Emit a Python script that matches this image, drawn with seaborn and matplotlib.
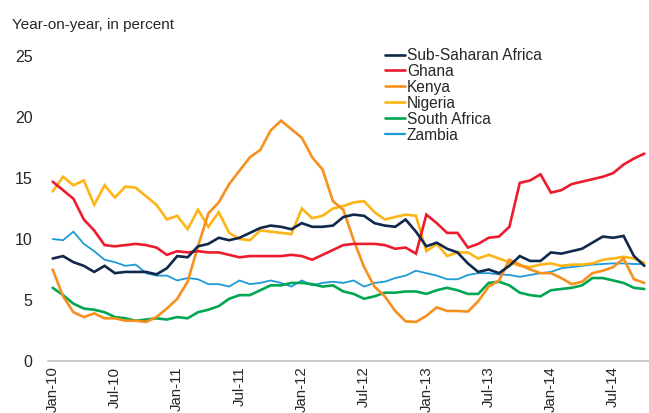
import matplotlib
matplotlib.use("Agg")
import matplotlib.pyplot as plt
import seaborn as sns
import pandas as pd
import numpy as np
from matplotlib.lines import Line2D

months = pd.date_range("2010-01-01", "2014-10-01", freq="MS")
tick_labels = ["Jan-10", "Jul-10", "Jan-11", "Jul-11", "Jan-12", "Jul-12",
               "Jan-13", "Jul-13", "Jan-14", "Jul-14"]

ssa = [8.4, 8.6, 8.1, 7.8, 7.3, 7.8, 7.2, 7.3, 7.3, 7.3,
       7.1, 7.6, 8.6, 8.5, 9.4, 9.6, 10.1, 9.9, 10.1, 10.5,
       10.9, 11.1, 11.0, 10.8, 11.3, 11.0, 11.0, 11.1, 11.8, 12.0,
       11.9, 11.3, 11.1, 11.0, 11.6, 10.6, 9.4, 9.7, 9.2, 8.9,
       8.0, 7.3, 7.5, 7.2, 7.8, 8.6, 8.2, 8.2, 8.9, 8.8,
       9.0, 9.2, 9.7, 10.2, 10.1, 10.25, 8.6, 7.8]
ghana = [14.7, 14.0, 13.3, 11.6, 10.7, 9.5, 9.4, 9.5, 9.6, 9.5,
         9.3, 8.7, 9.0, 8.9, 9.0, 8.9, 8.9, 8.7, 8.5, 8.6,
         8.6, 8.6, 8.6, 8.7, 8.6, 8.3, 8.7, 9.1, 9.5, 9.6,
         9.6, 9.6, 9.5, 9.2, 9.3, 8.8, 12.0, 11.3, 10.5, 10.5,
         9.3, 9.6, 10.1, 10.2, 11.0, 14.6, 14.8, 15.3, 13.8, 14.0,
         14.5, 14.7, 14.9, 15.1, 15.4, 16.1, 16.6, 17.0]
kenya = [7.5, 5.3, 4.0, 3.6, 3.9, 3.5, 3.5, 3.3, 3.3, 3.2,
         3.6, 4.3, 5.1, 6.5, 9.4, 12.1, 13.0, 14.5, 15.6, 16.7,
         17.3, 18.9, 19.7, 19.0, 18.3, 16.7, 15.7, 13.1, 12.4, 9.9,
         7.7, 6.1, 5.3, 4.1, 3.25, 3.2, 3.7, 4.4, 4.1, 4.1,
         4.05, 4.9, 6.1, 6.6, 8.3, 7.9, 7.5, 7.2, 7.2, 6.8,
         6.3, 6.5, 7.2, 7.4, 7.7, 8.4, 6.7, 6.4]
nigeria = [13.9, 15.1, 14.4, 14.8, 12.8, 14.4, 13.4, 14.3, 14.2, 13.5,
           12.8, 11.6, 11.9, 10.8, 12.4, 11.0, 12.2, 10.5, 10.0, 9.9,
           10.7, 10.6, 10.5, 10.4, 12.5, 11.7, 11.9, 12.5, 12.7, 13.0,
           13.1, 12.2, 11.6, 11.8, 12.0, 11.9, 9.0, 9.6, 8.6, 8.9,
           8.9, 8.4, 8.7, 8.4, 8.1, 7.8, 7.7, 7.9, 8.0, 7.8,
           7.9, 7.9, 8.0, 8.3, 8.4, 8.55, 8.4, 8.05]
south_africa = [6.0, 5.4, 4.7, 4.3, 4.2, 4.0, 3.6, 3.5, 3.3, 3.4,
                3.5, 3.4, 3.6, 3.5, 4.0, 4.2, 4.5, 5.1, 5.4, 5.4,
                5.8, 6.2, 6.2, 6.4, 6.4, 6.3, 6.1, 6.2, 5.7, 5.5,
                5.1, 5.3, 5.6, 5.6, 5.7, 5.7, 5.5, 5.8, 6.0, 5.8,
                5.5, 5.5, 6.4, 6.5, 6.2, 5.6, 5.4, 5.3, 5.8, 5.9,
                6.0, 6.2, 6.8, 6.8, 6.6, 6.4, 6.0, 5.9]
zambia = [10.0, 9.9, 10.6, 9.6, 9.0, 8.3, 8.1, 7.8, 7.9, 7.2,
          7.0, 7.0, 6.6, 6.8, 6.7, 6.3, 6.3, 6.1, 6.6, 6.3,
          6.4, 6.6, 6.4, 6.1, 6.6, 6.2, 6.4, 6.5, 6.4, 6.6,
          6.1, 6.4, 6.5, 6.8, 7.0, 7.4, 7.2, 7.0, 6.7, 6.7,
          7.05, 7.2, 7.2, 7.1, 7.05, 6.9, 7.05, 7.2, 7.3, 7.6,
          7.7, 7.8, 7.9, 7.95, 8.0, 8.0, 7.95, 7.95]

series = {
    "Sub-Saharan Africa": ssa,
    "Ghana": ghana,
    "Kenya": kenya,
    "Nigeria": nigeria,
    "South Africa": south_africa,
    "Zambia": zambia,
}
colors = {
    "Sub-Saharan Africa": "#10284A",
    "Ghana": "#EC1C2E",
    "Kenya": "#F7901E",
    "Nigeria": "#FDB515",
    "South Africa": "#00A651",
    "Zambia": "#1E9AD6",
}
widths = {
    "Sub-Saharan Africa": 1.9,
    "Ghana": 1.9,
    "Kenya": 1.9,
    "Nigeria": 1.9,
    "South Africa": 1.9,
    "Zambia": 1.3,
}

rows = []
for name, vals in series.items():
    for i, v in enumerate(vals):
        rows.append({"idx": i, "value": v, "series": name})
df = pd.DataFrame(rows)

sns.set_style("white")
plt.rcParams["font.family"] = ["Liberation Sans", "DejaVu Sans"]

fig = plt.figure(figsize=(6.49, 4.13), dpi=100)
ax = fig.add_axes([48 / 649, 52 / 413, 601 / 649, 305 / 413])

order = ["Zambia", "South Africa", "Nigeria", "Kenya", "Ghana", "Sub-Saharan Africa"]
for name in order:
    sub = df[df["series"] == name]
    sns.lineplot(data=sub, x="idx", y="value", ax=ax, color=colors[name],
                 linewidth=widths[name], legend=False,
                 solid_joinstyle="miter", clip_on=False)

ax.set_xlim(-0.45, 57.45)
ax.set_ylim(0, 25)
ax.set_yticks([0, 5, 10, 15, 20, 25])
ax.set_xticks(range(0, len(months), 6))
ax.set_xticklabels(tick_labels, rotation=90, fontsize=10.8)
ax.tick_params(axis="y", length=0, pad=11, labelsize=11.5)
ax.tick_params(axis="x", length=0, pad=4)
ax.set_xlabel("")
ax.set_ylabel("")
for s in ["top", "right", "left"]:
    ax.spines[s].set_visible(False)
ax.spines["bottom"].set_color("#BFBFBF")
ax.spines["bottom"].set_linewidth(1.2)
ax.grid(False)

fig.text(12 / 649, 1 - 25 / 413, "Year-on-year, in percent", fontsize=11,
         va="center", ha="left")

handles = [Line2D([0], [0], color=colors[n], linewidth=1.9 if n != "Zambia" else 1.6)
           for n in series]
leg = fig.legend(handles, list(series.keys()), loc="upper left",
                 bbox_to_anchor=(385 / 649, 1 - 48 / 413), frameon=False,
                 fontsize=11.2, handlelength=1.3, handletextpad=0.1,
                 labelspacing=0.06, borderpad=0, borderaxespad=0)

fig.savefig("out.png", dpi=100)
